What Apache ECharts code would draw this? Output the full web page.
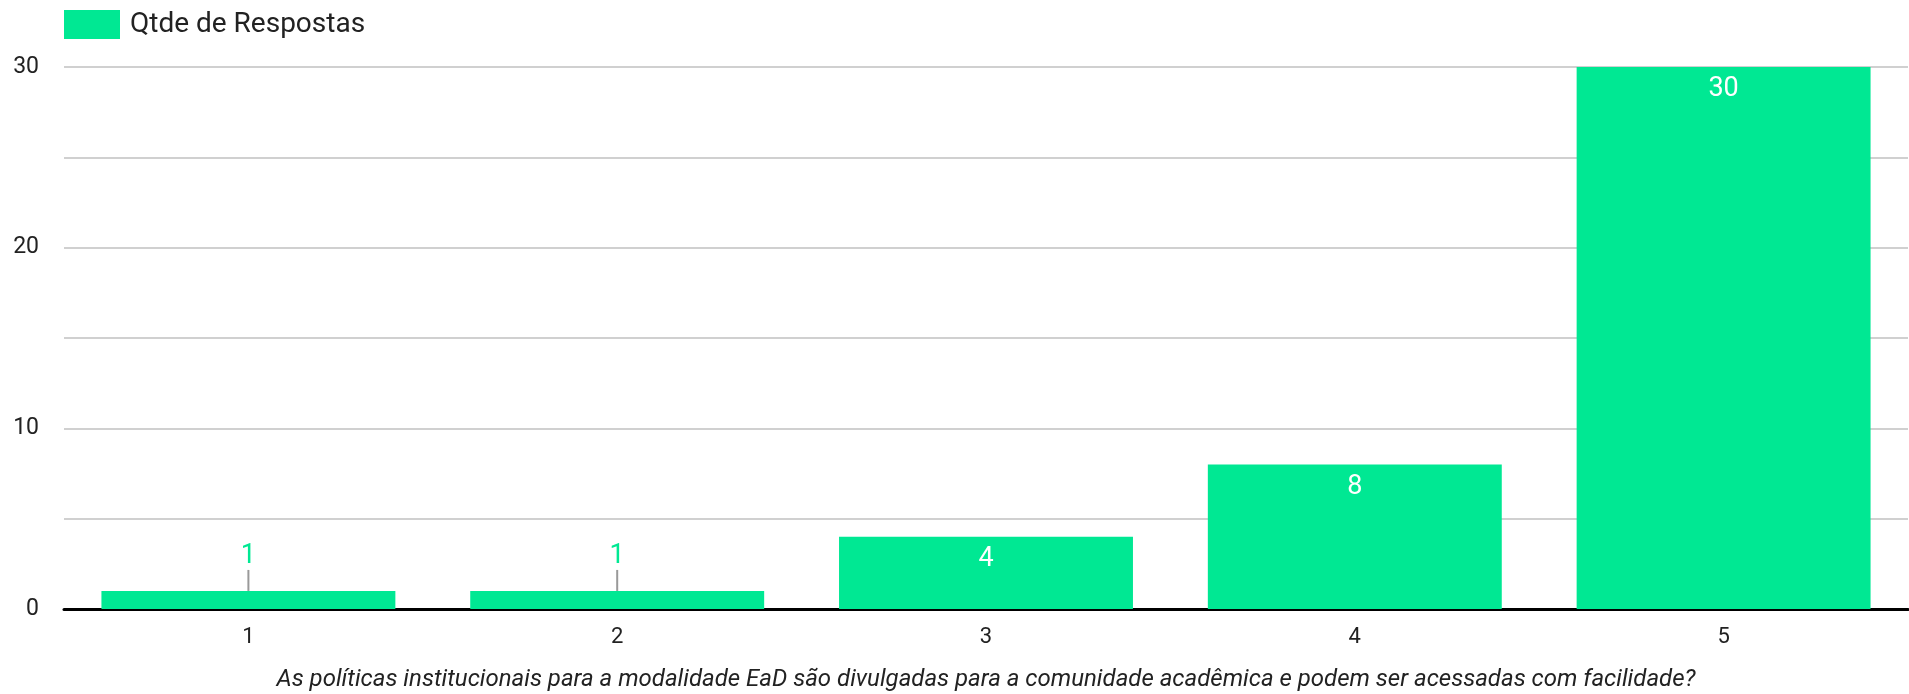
<!DOCTYPE html>
<html>
<head>
<meta charset="utf-8">
<script src="https://cdn.jsdelivr.net/npm/echarts@6/dist/echarts.min.js"></script>
<style>html,body{margin:0;padding:0;background:#fff}#c{width:1909px;height:694px}</style>
</head>
<body>
<div id="c"></div>
<script>
const categories = ['1', '2', '3', '4', '5'];
const values = [1, 1, 4, 8, 30];
const seriesName = 'Qtde de Respostas';
const axisTitle = 'As políticas institucionais para a modalidade EaD são divulgadas para a comunidade acadêmica e podem ser acessadas com facilidade?';
const yTicks = [0, 10, 20, 30];

const GREEN = '#00E893';
const smallThreshold = 2;

const chart = echarts.init(document.getElementById('c'));
chart.setOption({
  animation: false,
  textStyle: { fontFamily: 'Roboto' },
  legend: {
    left: 64, top: 10, padding: 0, itemWidth: 56, itemHeight: 29, itemGap: 10,
    icon: 'rect',
    textStyle: { fontSize: 28, color: '#222', fontFamily: 'Roboto', padding: [0, 0, 0, 5] },
    data: [seriesName]
  },
  grid: { left: 64, right: 1, top: 67, bottom: 85, containLabel: false, outerBoundsMode: 'none' },
  xAxis: {
    type: 'category', data: categories,
    axisLine: { lineStyle: { color: '#000', width: 3 } },
    axisTick: { show: false },
    axisLabel: { fontSize: 22, color: '#222', margin: 17 },
    name: axisTitle, nameLocation: 'middle', nameGap: 59,
    nameTextStyle: { fontSize: 24, fontStyle: 'italic', color: '#222' }
  },
  yAxis: {
    type: 'value', min: 0, max: 30, interval: 5,
    axisLine: { show: false }, axisTick: { show: false },
    axisLabel: {
      fontSize: 23, color: '#222', margin: 25,
      formatter: v => (yTicks.indexOf(v) >= 0 ? String(v) : '')
    },
    splitLine: { lineStyle: { color: '#d0d0d0', width: 2 } }
  },
  series: [{
    name: seriesName, type: 'bar', barCategoryGap: '20.3%',
    itemStyle: { color: GREEN },
    data: values.map(v => v <= smallThreshold ? {
      value: v,
      label: { position: 'top', color: GREEN, distance: 5 },
      labelLine: { show: true, lineStyle: { color: '#999', width: 2 } }
    } : { value: v }),
    label: { show: true, position: 'insideTop', distance: 9, color: '#fff', fontSize: 27 },
    labelLine: { show: false },
    labelLayout: function (params) {
      if (values[params.dataIndex] <= smallThreshold) return { dy: -16 };
      return {};
    }
  }]
});
</script>
</body>
</html>
